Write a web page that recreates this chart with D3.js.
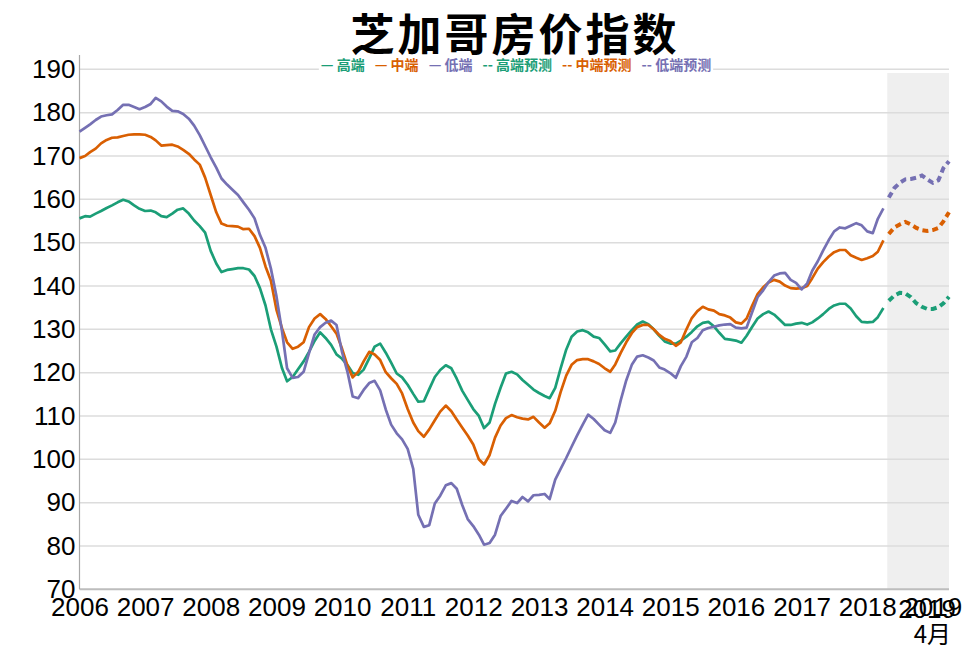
<!DOCTYPE html>
<html>
<head>
<meta charset="utf-8">
<script src="https://cdn.jsdelivr.net/npm/d3@7"></script>
<style>
  html, body { margin: 0; padding: 0; background: #fff; }
  svg { display: block; }
</style>
</head>
<body>
<svg id="chart" width="975" height="650"></svg>
<script>
// ---------- DATA (monthly, starting Jan 2006) ----------
const startYear = 2006;
const seriesNames = ["高端", "中端", "低端"];
const forecastNames = ["高端预测", "中端预测", "低端预测"];

// 高端 (high tier), Jan 2006 – Apr 2018
const highTier = [
155.6,156.1,156.0,156.7,157.3,158.0,158.6,159.3,159.9,159.5,158.6,157.8,
157.3,157.4,157.0,156.1,155.9,156.7,157.6,157.9,156.7,155.1,153.8,152.3,
148.1,145.2,143.2,143.7,143.9,144.1,144.1,143.8,142.3,139.5,135.5,130.0,
126.0,121.0,118.0,119.0,120.8,122.6,124.8,127.3,129.3,128.0,126.4,124.2,
123.2,121.7,119.9,119.5,120.7,123.3,126.0,126.7,124.6,122.3,119.8,118.9,
117.2,115.1,113.3,113.4,116.2,119.0,120.6,121.7,121.0,118.6,115.8,113.7,
111.6,110.0,107.2,108.5,112.8,116.5,119.8,120.2,119.6,118.3,117.2,116.1,
115.3,114.6,114.1,116.5,121.0,125.3,128.3,129.5,129.8,129.3,128.3,128.0,
126.5,124.9,125.1,126.8,128.3,129.8,131.1,131.8,131.2,130.0,128.5,127.2,
126.7,126.7,127.4,128.3,129.4,130.7,131.5,131.7,130.7,129.2,127.8,127.6,
127.4,126.9,128.5,130.6,132.5,133.5,134.1,133.4,132.2,131.0,131.0,131.3,
131.5,131.1,131.6,132.5,133.5,134.7,135.5,135.9,135.9,134.8,133.0,131.7,
131.6,131.7,132.8,134.9
];
// 中端 (middle tier)
const midTier = [
169.5,170.0,170.9,171.7,172.9,173.7,174.2,174.3,174.6,174.9,175.0,175.0,
174.9,174.4,173.6,172.4,172.5,172.6,172.2,171.4,170.5,169.2,168.0,165.0,
161.0,157.0,154.4,153.9,153.8,153.7,153.1,153.2,151.5,148.8,144.5,141.2,
134.5,130.2,127.0,125.5,126.0,127.0,130.5,132.5,133.5,132.4,130.7,129.0,
125.5,121.5,118.9,120.2,122.6,124.8,124.2,122.9,120.1,118.7,117.4,115.2,
111.6,108.5,106.5,105.2,106.9,109.0,111.0,112.4,111.1,109.2,107.3,105.5,
103.4,100.0,98.8,101.0,105.0,107.8,109.5,110.2,109.7,109.4,109.2,109.8,
108.5,107.3,108.3,111.2,115.5,119.3,121.8,122.9,123.1,123.1,122.6,122.0,
121.0,120.2,121.9,124.6,127.0,129.1,130.5,131.0,131.0,130.0,128.7,127.8,
127.3,126.2,127.0,130.0,132.6,134.2,135.2,134.6,134.3,133.5,133.2,132.7,
131.6,131.3,132.5,135.5,138.1,139.7,140.8,141.4,141.0,140.1,139.5,139.4,
139.5,140.0,141.8,144.0,145.5,146.8,147.8,148.3,148.3,147.1,146.5,146.0,
146.4,146.9,147.9,150.5
];
// 低端 (low tier)
const lowTier = [
175.6,176.5,177.3,178.3,179.1,179.4,179.6,180.6,181.8,181.8,181.3,180.8,
181.3,182.0,183.4,182.6,181.4,180.4,180.3,179.7,178.6,177.0,174.8,172.3,
169.7,167.3,164.8,163.4,162.2,161.0,159.3,157.6,155.6,151.8,148.8,144.0,
137.6,129.5,121.0,118.8,119.0,120.2,124.5,128.8,130.5,131.5,132.0,131.0,
124.7,120.0,114.5,114.1,116.0,117.6,118.1,115.9,111.5,108.0,106.0,104.6,
102.4,97.8,87.2,84.4,84.8,89.8,91.6,94.0,94.5,93.2,89.4,86.2,
84.6,82.6,80.3,80.7,82.6,86.9,88.6,90.4,89.9,91.3,90.3,91.7,
91.8,92.0,90.8,95.3,97.8,100.3,102.9,105.5,108.0,110.3,109.3,108.0,
106.7,106.1,108.5,113.7,118.2,121.8,123.7,124.0,123.5,122.8,121.2,120.7,
119.9,118.8,121.5,123.7,127.0,128.0,129.8,130.3,130.6,130.9,131.1,131.2,
130.4,130.2,130.4,134.0,137.4,139.0,140.9,142.4,142.9,143.0,141.4,140.7,
139.2,140.6,143.5,145.7,148.2,150.6,152.6,153.5,153.3,153.9,154.5,154.0,
152.6,152.2,155.5,157.9
];
// Forecasts, May 2018 – Apr 2019
const forecastStart = [2018, 4]; // year, month index (May)
const highForecast = [136.6,137.8,138.4,138.3,137.4,136.0,135.2,134.7,134.7,135.1,136.0,137.5];
const midForecast  = [152.0,153.5,154.2,154.8,154.2,153.4,152.9,152.7,152.9,153.4,154.9,157.0];
const lowForecast  = [160.4,162.6,163.8,164.6,164.7,165.0,165.5,164.6,163.8,164.4,167.2,168.8];

const yTicks = [70, 80, 90, 100, 110, 120, 130, 140, 150, 160, 170, 180, 190];
const xTickYears = [2006,2007,2008,2009,2010,2011,2012,2013,2014,2015,2016,2017,2018,2019];
const endLabel = ["2019", "4月"];
const colors = ["#1b9e77", "#d95f02", "#7570b3"];

// ---------- CHART ----------
const svg = d3.select("#chart");
const plotLeft = 79.5, plotRight = 949, plotTop = 69.3, plotBottom = 589.3;

const x = d3.scaleTime()
  .domain([new Date(2006, 0, 1), new Date(2019, 3, 1)])
  .range([plotLeft, plotRight]);
const y = d3.scaleLinear().domain([70, 190]).range([plotBottom, plotTop]);

const toSeries = (arr, y0, m0) => arr.map((v, i) => ({ date: new Date(y0, m0 + i, 1), value: v }));
const actual = [highTier, midTier, lowTier].map(a => toSeries(a, startYear, 0));
const fc = [highForecast, midForecast, lowForecast].map(a => toSeries(a, forecastStart[0], forecastStart[1]));

// forecast shading
const shadeX = x(new Date(forecastStart[0], forecastStart[1], 1)) - 1.5;
svg.append("rect")
  .attr("x", shadeX)
  .attr("y", 73)
  .attr("width", plotRight - shadeX)
  .attr("height", plotBottom - 73)
  .attr("fill", "#efefef");

// gridlines
svg.append("g").selectAll("line")
  .data(yTicks.filter(t => t > 70))
  .join("line")
  .attr("x1", plotLeft).attr("x2", plotRight)
  .attr("y1", d => y(d)).attr("y2", d => y(d))
  .attr("stroke", "#dcdcdc").attr("stroke-width", 1.5);

// bottom axis line
svg.append("line")
  .attr("x1", plotLeft).attr("x2", plotRight)
  .attr("y1", y(70)).attr("y2", y(70))
  .attr("stroke", "#bdbdbd").attr("stroke-width", 2);

// left axis line
svg.append("line")
  .attr("x1", plotLeft).attr("x2", plotLeft)
  .attr("y1", 55).attr("y2", y(70))
  .attr("stroke", "#a8a8a8").attr("stroke-width", 1.2);

// y axis labels
const yAxis = d3.axisLeft(y).tickValues(yTicks).tickSize(0).tickPadding(4).tickFormat(d3.format("d"));
const gy = svg.append("g").attr("transform", `translate(${plotLeft},0)`).call(yAxis);
gy.select(".domain").remove();
gy.selectAll("text")
  .attr("font-family", "'Liberation Sans', Arial, sans-serif")
  .attr("font-size", 26).attr("fill", "#000");

// x axis labels
const xAxis = d3.axisBottom(x)
  .tickValues(xTickYears.map(yr => new Date(yr, 0, 1)))
  .tickSize(0).tickPadding(8).tickFormat(d3.timeFormat("%Y"));
const gx = svg.append("g").attr("transform", `translate(0,${y(70)})`).call(xAxis);
gx.select(".domain").remove();
gx.selectAll("text")
  .attr("font-family", "'Liberation Sans', Arial, sans-serif")
  .attr("font-size", 26).attr("fill", "#000");

// end label
const el = svg.append("text")
  .attr("text-anchor", "end")
  .attr("font-family", "'Liberation Sans', 'Noto Sans CJK SC', sans-serif")
  .attr("font-size", 26).attr("fill", "#000");
el.append("tspan").attr("x", 956).attr("y", 618).text(endLabel[0]);
el.append("tspan").attr("x", 951).attr("y", 643)
  .attr("font-family", "'Noto Sans CJK SC', sans-serif").attr("font-size", 24).text(endLabel[1]);

// lines
const line = d3.line().x(d => x(d.date)).y(d => y(d.value));
actual.forEach((s, i) => {
  svg.append("path").datum(s)
    .attr("fill", "none").attr("stroke", colors[i])
    .attr("stroke-width", 2.7).attr("stroke-linejoin", "round")
    .attr("d", line);
});
fc.forEach((s, i) => {
  svg.append("path").datum(s)
    .attr("fill", "none").attr("stroke", colors[i])
    .attr("stroke-width", 4).attr("stroke-dasharray", "6,4")
    .attr("d", line);
});

// title
svg.append("text")
  .attr("x", 515).attr("y", 51)
  .attr("text-anchor", "middle")
  .attr("font-family", "'Noto Sans CJK SC', sans-serif")
  .attr("font-weight", 700).attr("font-size", 44)
  .attr("letter-spacing", 3)
  .attr("fill", "#000")
  .text("芝加哥房价指数");

// legend
const legendItems = [
  { mark: "—", label: seriesNames[0], color: colors[0] },
  { mark: "—", label: seriesNames[1], color: colors[1] },
  { mark: "—", label: seriesNames[2], color: colors[2] },
  { mark: "--", label: forecastNames[0], color: colors[0] },
  { mark: "--", label: forecastNames[1], color: colors[1] },
  { mark: "--", label: forecastNames[2], color: colors[2] }
];
const legendBg = svg.append("rect").attr("y", 56).attr("height", 17).attr("fill", "#fff");
const lgG = svg.append("g");
const gap = 10;
let cx = 0;
legendItems.forEach(d => {
  const t = lgG.append("text")
    .attr("x", cx).attr("y", 69.5)
    .attr("font-family", "'Noto Sans CJK SC', sans-serif")
    .attr("font-weight", 700).attr("font-size", 14)
    .attr("fill", d.color)
    .text(d.mark + " " + d.label);
  cx += t.node().getBBox().width + gap;
});
const totalW = cx - gap;
const lgX = 516 - totalW / 2;
lgG.attr("transform", `translate(${lgX},0)`);
legendBg.attr("x", lgX - 2).attr("width", totalW + 4);
</script>
</body>
</html>
